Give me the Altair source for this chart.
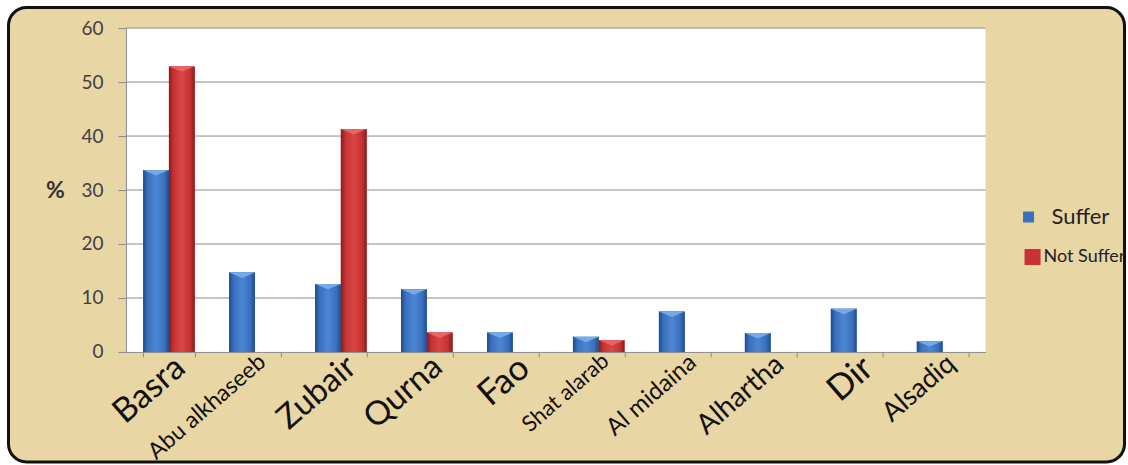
import altair as alt
import pandas as pd

# ---- data -------------------------------------------------------------
DISTRICTS = ["Basra", "Abu alkhaseeb", "Zubair", "Qurna", "Fao",
             "Shat alarab", "Al midaina", "Alhartha", "Dir", "Alsadiq"]
SUFFER = [33.7, 14.7, 12.6, 11.6, 3.6, 2.8, 7.5, 3.5, 8.0, 2.0]
NOT_SUFFER = [52.9, 0.0, 41.3, 3.6, 0.0, 2.2, 0.0, 0.0, 0.0, 0.0]
SERIES = ["Suffer", "Not Suffer"]
Y_TICKS = [0, 10, 20, 30, 40, 50, 60]

rows = []
for d, s, n in zip(DISTRICTS, SUFFER, NOT_SUFFER):
    rows.append({"district": d, "series": "Suffer", "value": s})
    rows.append({"district": d, "series": "Not Suffer", "value": n})
df = pd.DataFrame(rows)
grid_df = pd.DataFrame({"value": Y_TICKS[1:]})

# ---- styling ----------------------------------------------------------
W, H = 860, 324
FONT = "Lato"
PARCHMENT = "#e9d6a5"
BLUE, RED = "#3b70bd", "#c83232"
CAP_BLUE, CAP_RED = "#74aae8", "#e86464"
GRID = "#8c8c8c"

# per-district label size on the category axis
label_size = {"Basra": 34, "Abu alkhaseeb": 23, "Zubair": 33, "Qurna": 33,
              "Fao": 35, "Shat alarab": 22, "Al midaina": 24,
              "Alhartha": 28, "Dir": 35, "Alsadiq": 27}
size_conditions = [{"test": f"datum.value == '{k}'", "value": v}
                   for k, v in label_size.items()]


def grad(edge, mid, centre):
    return alt.LinearGradient(
        gradient="linear", x1=0, x2=1, y1=0, y2=0,
        stops=[alt.GradientStop(color=edge, offset=0),
               alt.GradientStop(color=mid, offset=0.18),
               alt.GradientStop(color=centre, offset=0.5),
               alt.GradientStop(color=mid, offset=0.82),
               alt.GradientStop(color=edge, offset=1)])


BLUE_FILL = grad("#1e4c8e", "#3a70bf", "#4c86d2")
RED_FILL = grad("#8a1c1c", "#c63232", "#d84646")

x_enc = alt.X(
    "district:N", sort=DISTRICTS, title=None,
    scale=alt.Scale(domain=DISTRICTS, paddingInner=0.4, paddingOuter=0.2),
    axis=alt.Axis(
        labelAngle=-41, labelAlign="right", labelBaseline="top",
        labelFont=FONT, labelColor="#111111", labelPadding=-7,
        labelFontSize={"condition": size_conditions, "value": 24},
        labelOverlap=False, labelBound=False,
        tickBand="extent", tickSize=5, tickColor=GRID,
        domainColor=GRID, zindex=1))
xoff_enc = alt.XOffset("series:N", sort=SERIES, scale=alt.Scale(domain=SERIES))
y_enc = alt.Y(
    "value:Q",
    scale=alt.Scale(domain=[0, 60], nice=False),
    axis=alt.Axis(
        values=Y_TICKS, grid=False, title="%", titleAngle=0,
        titleFont=FONT, titleFontSize=23, titleFontWeight="bold",
        titleColor="#333333", titleX=-71, titleY=162,
        titleAlign="center", titleBaseline="middle",
        labelFont=FONT, labelFontSize=19, labelColor="#404040",
        labelPadding=15, tickSize=8, tickColor=GRID,
        domainColor=GRID, zindex=1))

one = pd.DataFrame({"k": [0]})

# parchment panel with a rounded black border
frame = alt.Chart(one).mark_rect(
    fill=PARCHMENT, stroke="#111111", strokeWidth=3, cornerRadius=18
).encode(x=alt.value(-117.5), x2=alt.value(999),
         y=alt.value(-20.5), y2=alt.value(434))

# white plotting area
plot_bg = alt.Chart(one).mark_rect(fill="white").encode(
    x=alt.value(0), x2=alt.value(W), y=alt.value(0), y2=alt.value(H))

# horizontal gridlines at the tick values
grid = alt.Chart(grid_df).mark_rule(color=GRID, strokeWidth=1).encode(
    y=y_enc, x=alt.value(0), x2=alt.value(W))


def legend(x, y, size, font_size, offset):
    return alt.Legend(
        title=None, orient="none", legendX=x, legendY=y, padding=0,
        symbolType="square", symbolSize=size, symbolStrokeWidth=0,
        labelFont=FONT, labelColor="#222222", labelFontSize=font_size,
        labelOffset=offset)


# solid bars, one layer per series, each with its own legend entry
suffer_df = df[df.series == "Suffer"]
not_df = df[df.series == "Not Suffer"]

blue_bars = alt.Chart(suffer_df).mark_bar().encode(
    x=x_enc, xOffset=xoff_enc, y=y_enc,
    color=alt.Color("series:N",
                    scale=alt.Scale(domain=["Suffer"], range=[BLUE]),
                    legend=legend(892, 178, 121, 22, 12)))
red_bars = alt.Chart(not_df).mark_bar().encode(
    x=x_enc, xOffset=xoff_enc, y=y_enc,
    fill=alt.Fill("series:N",
                  scale=alt.Scale(domain=["Not Suffer"], range=[RED]),
                  legend=legend(898, 220, 256, 18, 2)))

# shaded overlays giving the bars a rounded, bevelled look
blue_shade = alt.Chart(suffer_df).mark_bar(fill=BLUE_FILL).encode(
    x=x_enc, xOffset=xoff_enc, y=y_enc)
red_shade = alt.Chart(not_df).mark_bar(fill=RED_FILL).encode(
    x=x_enc, xOffset=xoff_enc, y=y_enc)

# light bevel on the top of each bar
CAP_SHAPE = "M-1,0L1,0L0,0.42Z"
blue_caps = alt.Chart(suffer_df).transform_filter("datum.value > 0").mark_point(
    shape=CAP_SHAPE, filled=True, fill=CAP_BLUE, opacity=1, size=666, strokeWidth=0
).encode(x=x_enc, xOffset=xoff_enc, y=y_enc)
red_caps = alt.Chart(not_df).transform_filter("datum.value > 0").mark_point(
    shape=CAP_SHAPE, filled=True, fill=CAP_RED, opacity=1, size=666, strokeWidth=0
).encode(x=x_enc, xOffset=xoff_enc, y=y_enc)

chart = alt.layer(
    frame, plot_bg, grid, blue_bars, red_bars, blue_shade, red_shade,
    blue_caps, red_caps,
).resolve_scale(color="independent", fill="independent").properties(
    width=W, height=H,
    padding={"left": 7, "top": 6, "right": 1.5, "bottom": 1.5},
    background="white",
).configure_view(stroke=None)

chart.save("out.html", embed_options={"renderer": "svg", "actions": False})
